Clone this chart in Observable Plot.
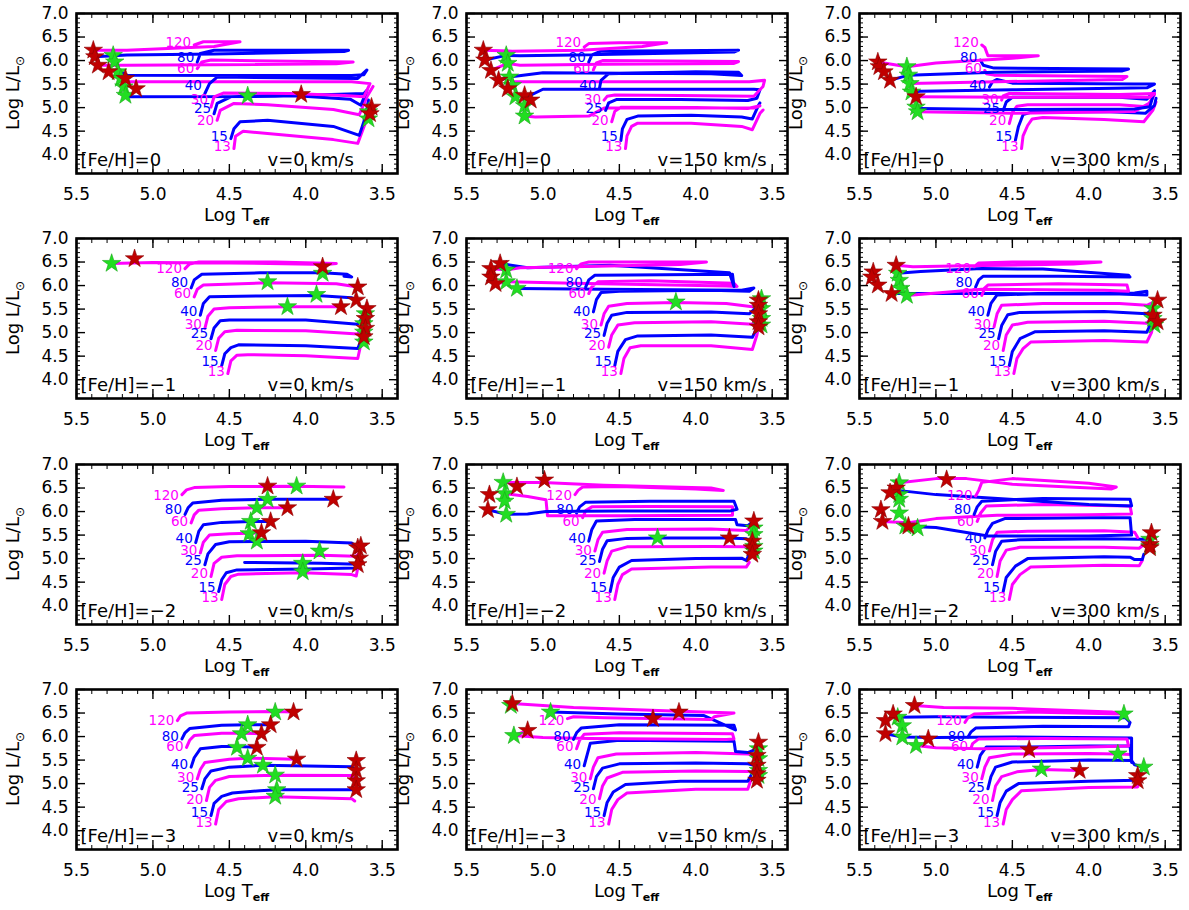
<!DOCTYPE html>
<html><head><meta charset="utf-8">
<script src="https://cdn.jsdelivr.net/npm/d3@7"></script>
<script src="https://cdn.jsdelivr.net/npm/@observablehq/plot@0.6"></script>
<style>
body{margin:0;background:#fff;}
#wrap{position:relative;width:1189px;height:910px;overflow:hidden;background:#fff;}
#wrap svg{position:absolute;overflow:visible;}
</style></head><body><div id="wrap"></div>
<script>
// ---- categories ----
const masses = [13, 15, 20, 25, 30, 40, 60, 80, 120];
const magentaMasses = [13, 20, 30, 60, 120];
const fehLabels = ["0", "−1", "−2", "−3"];
const velLabels = ["0", "150", "300"];
const xTicks = [5.5, 5.0, 4.5, 4.0, 3.5];
const yTicks = [4.0, 4.5, 5.0, 5.5, 6.0, 6.5, 7.0];
// Log L at which each mass label sits, per [Fe/H] row
const labelLum = [
  [4.16, 4.39, 4.72, 4.97, 5.17, 5.47, 5.83, 6.06, 6.38],
  [4.16, 4.39, 4.72, 4.98, 5.17, 5.45, 5.83, 6.06, 6.36],
  [4.16, 4.38, 4.67, 4.96, 5.16, 5.42, 5.79, 6.04, 6.33],
  [4.18, 4.38, 4.66, 4.91, 5.12, 5.40, 5.78, 6.00, 6.33]
];

// ---- [Fe/H]=0 ----
const tracksFe0v0 = {
  13: [[4.47,4.13],[4.46,4.39],[4.41,4.50],[4.25,4.45],[3.82,4.32],[3.66,4.24],[3.62,4.59],[3.58,4.94]],
  15: [[4.49,4.34],[4.47,4.55],[4.43,4.70],[4.25,4.73],[3.82,4.60],[3.65,4.41],[3.61,4.80],[3.59,5.16]],
  20: [[4.58,4.73],[4.56,4.94],[4.47,5.09],[4.25,5.06],[3.82,4.96],[3.65,4.85],[3.60,5.23],[3.56,5.45]],
  25: [[4.60,4.87],[4.58,5.09],[4.49,5.23],[4.14,5.27],[3.71,5.18],[3.64,5.05],[3.60,5.37],[3.62,5.30],[4.20,5.24],[5.17,5.23],[5.18,5.26]],
  30: [[4.62,5.01],[4.60,5.23],[4.54,5.31],[4.10,5.30],[3.75,5.26],[3.62,5.23],[3.58,5.51],[3.70,5.55],[5.17,5.55],[5.19,5.62]],
  40: [[4.66,5.30],[4.63,5.51],[4.58,5.65],[3.66,5.62],[3.60,5.80],[3.62,5.70],[3.70,5.68],[5.17,5.69],[5.21,5.76]],
  60: [[4.71,5.83],[4.68,5.97],[4.62,6.01],[3.69,5.97],[3.80,5.93],[5.17,5.90],[5.36,5.90]],
  80: [[4.71,5.97],[4.69,6.15],[4.60,6.22],[3.72,6.22],[3.75,6.19],[4.60,6.14],[5.17,6.12],[5.38,6.08]],
  120: [[4.73,6.33],[4.67,6.40],[4.43,6.40],[4.60,6.30],[5.17,6.22],[5.39,6.22]]
};
const redFe0v0 = [[5.39,6.22],[5.38,6.08],[5.36,5.90],[5.29,5.76],[5.18,5.62],[5.11,5.40],[4.03,5.28],[3.57,5.01],[3.58,4.87]];
const greenFe0v0 = [[5.26,6.11],[5.25,5.97],[5.23,5.76],[5.21,5.62],[5.19,5.44],[5.18,5.26],[4.38,5.25],[3.59,4.91],[3.59,4.76]];

const tracksFe0v150 = {
  13: [[4.46,4.13],[4.45,4.40],[4.42,4.60],[4.38,4.67],[4.03,4.67],[3.70,4.60],[3.63,4.53],[3.58,4.88],[3.56,4.95]],
  15: [[4.49,4.30],[4.48,4.55],[4.45,4.75],[4.38,4.82],[4.03,4.84],[3.70,4.80],[3.63,4.76],[3.59,5.05],[3.58,5.10]],
  20: [[4.55,4.70],[4.53,4.92],[4.49,5.01],[4.00,5.00],[3.66,4.98],[3.58,5.04],[3.62,4.99],[4.60,4.99],[4.70,4.82],[5.05,4.80],[5.12,4.82]],
  25: [[4.59,4.94],[4.57,5.10],[4.52,5.17],[4.10,5.17],[3.66,5.15],[3.60,5.20],[3.58,5.38],[3.62,5.39],[5.00,5.39],[5.12,5.20],[5.12,5.04]],
  30: [[4.60,5.16],[4.58,5.24],[4.53,5.27],[4.10,5.26],[3.62,5.24],[3.56,5.45],[3.55,5.58],[3.65,5.55],[5.20,5.55],[5.20,5.47]],
  40: [[4.63,5.41],[4.62,5.58],[4.57,5.72],[4.00,5.76],[3.72,5.75],[3.70,5.68],[3.90,5.72],[5.00,5.74],[5.22,5.65],[5.29,5.58]],
  60: [[4.67,5.80],[4.65,5.95],[4.61,6.00],[3.72,5.98],[3.75,5.94],[4.60,5.92],[5.15,5.90],[5.23,5.94],[5.34,5.79]],
  80: [[4.70,5.97],[4.68,6.12],[4.62,6.20],[3.72,6.22],[3.75,6.18],[4.80,6.12],[5.15,6.10],[5.24,6.11],[5.38,6.01]],
  120: [[4.73,6.29],[4.70,6.36],[4.50,6.38],[4.19,6.38],[4.35,6.30],[4.75,6.22],[5.20,6.20],[5.39,6.22]]
};
const redFe0v150 = [[5.39,6.22],[5.38,6.01],[5.34,5.79],[5.29,5.58],[5.23,5.40],[5.12,5.26],[5.08,5.16]];
const greenFe0v150 = [[5.24,6.11],[5.23,5.94],[5.22,5.65],[5.20,5.47],[5.18,5.23],[5.12,5.04],[5.12,4.82]];

const tracksFe0v300 = {
  13: [[4.44,4.13],[4.43,4.40],[4.40,4.62],[4.37,4.76],[4.30,4.79],[3.90,4.75],[3.64,4.70],[3.58,4.95],[3.56,5.12]],
  15: [[4.48,4.31],[4.46,4.60],[4.43,4.85],[4.38,4.90],[3.90,4.92],[3.63,4.88],[3.57,5.05],[3.56,5.20]],
  20: [[4.52,4.66],[4.50,4.90],[4.47,5.03],[4.40,5.06],[3.80,5.06],[3.62,5.02],[3.57,5.28],[3.60,5.10],[3.70,4.92],[4.50,4.88],[5.12,4.91]],
  25: [[4.56,4.94],[4.54,5.12],[4.50,5.22],[3.80,5.22],[3.62,5.18],[3.57,5.36],[3.60,5.02],[3.70,4.97],[4.60,4.96],[5.10,4.98],[5.13,5.01]],
  30: [[4.57,5.16],[4.56,5.25],[4.52,5.30],[3.80,5.28],[3.57,5.30],[3.60,5.22],[4.50,5.22],[5.13,5.23]],
  40: [[4.65,5.44],[4.63,5.55],[4.60,5.60],[4.50,5.52],[3.70,5.50],[3.57,5.50],[3.62,5.42],[4.50,5.38],[5.10,5.35],[5.16,5.33]],
  60: [[4.68,5.79],[4.67,5.72],[4.62,5.69],[3.75,5.66],[3.78,5.60],[4.60,5.55],[5.17,5.51]],
  80: [[4.71,6.01],[4.69,5.90],[4.62,5.84],[3.74,5.82],[3.78,5.78],[4.62,5.75],[5.18,5.69],[5.30,5.58]],
  120: [[4.70,6.33],[4.68,6.28],[4.66,6.10],[4.33,6.10],[4.50,6.05],[5.00,5.95],[5.19,5.87],[5.38,5.97]]
};
const redFe0v300 = [[5.38,5.97],[5.37,5.87],[5.34,5.76],[5.30,5.58],[5.13,5.23]];
const greenFe0v300 = [[5.19,5.87],[5.18,5.69],[5.17,5.51],[5.16,5.33],[5.13,5.01],[5.12,4.91]];

// ---- [Fe/H]=-1 ----
const tracksFem1v0 = {
  13: [[4.51,4.13],[4.49,4.40],[4.45,4.52],[4.38,4.53],[4.00,4.51],[3.66,4.45],[3.64,4.75],[3.62,4.85]],
  15: [[4.55,4.30],[4.53,4.55],[4.49,4.68],[4.44,4.74],[4.00,4.72],[3.66,4.66],[3.63,4.90],[3.62,5.05]],
  20: [[4.59,4.62],[4.57,4.88],[4.53,5.02],[4.45,5.05],[4.00,5.04],[3.66,4.97],[3.63,5.15],[3.61,5.26]],
  25: [[4.62,4.87],[4.60,5.10],[4.56,5.25],[4.50,5.27],[4.00,5.27],[3.66,5.18],[3.62,5.35],[3.60,5.48]],
  30: [[4.66,5.09],[4.64,5.35],[4.60,5.50],[4.50,5.53],[4.12,5.55],[3.77,5.55]],
  40: [[4.69,5.37],[4.67,5.62],[4.63,5.76],[4.30,5.78],[3.93,5.79],[3.70,5.74],[3.67,5.69]],
  60: [[4.73,5.76],[4.71,5.92],[4.67,6.01],[4.25,6.06],[3.80,6.04],[3.66,5.97]],
  80: [[4.75,5.95],[4.73,6.12],[4.68,6.24],[4.30,6.27],[3.89,6.27],[3.73,6.24],[3.70,6.18],[3.75,6.20]],
  120: [[4.79,6.36],[4.76,6.46],[4.70,6.50],[4.20,6.50],[3.80,6.47],[3.85,6.45],[4.50,6.48],[5.00,6.49],[5.27,6.47]]
};
const redFem1v0 = [[5.12,6.57],[3.89,6.40],[3.66,5.97],[3.67,5.69],[3.77,5.55],[3.60,5.51],[3.61,5.30],[3.61,5.09],[3.62,4.91]];
const greenFem1v0 = [[5.27,6.47],[3.89,6.26],[4.25,6.08],[3.93,5.81],[4.12,5.55],[3.61,5.40],[3.62,5.19],[3.62,5.01],[3.62,4.80]];

const tracksFem1v150 = {
  13: [[4.49,4.13],[4.47,4.45],[4.43,4.68],[4.36,4.72],[3.90,4.72],[3.63,4.64],[3.60,4.95],[3.59,5.12]],
  15: [[4.53,4.30],[4.51,4.60],[4.46,4.85],[4.38,4.93],[3.90,4.95],[3.63,4.90],[3.60,5.10],[3.59,5.23]],
  20: [[4.57,4.69],[4.55,4.95],[4.51,5.16],[4.40,5.21],[3.90,5.23],[3.63,5.18],[3.60,5.35],[3.59,5.40]],
  25: [[4.60,4.94],[4.58,5.20],[4.55,5.37],[4.45,5.43],[3.90,5.44],[3.65,5.40],[3.60,5.55],[3.59,5.69]],
  30: [[4.62,5.16],[4.60,5.40],[4.57,5.56],[4.45,5.62],[4.13,5.64],[3.80,5.62],[3.63,5.55],[3.58,5.72]],
  40: [[4.67,5.44],[4.65,5.70],[4.62,5.85],[4.50,5.88],[3.90,5.90],[3.65,5.88],[3.62,5.95],[3.70,5.90],[4.60,5.92],[5.17,5.94]],
  60: [[4.70,5.83],[4.68,5.97],[4.64,6.08],[4.30,6.10],[3.75,6.05],[3.73,5.98],[3.80,5.99],[4.80,6.05],[5.24,6.08],[5.31,6.04]],
  80: [[4.72,5.97],[4.70,6.12],[4.66,6.22],[3.76,6.24],[3.75,5.98],[3.78,6.27],[4.56,6.43],[5.10,6.38],[5.28,6.47]],
  120: [[4.78,6.36],[4.75,6.46],[4.70,6.50],[4.20,6.50],[3.93,6.50],[4.10,6.45],[4.80,6.40],[5.15,6.38],[5.24,6.33],[5.34,6.36]]
};
const redFem1v150 = [[5.34,6.36],[5.28,6.47],[5.34,6.18],[5.31,6.04],[3.59,5.69],[3.59,5.58],[3.59,5.40],[3.59,5.23],[3.59,5.12]];
const greenFem1v150 = [[5.24,6.33],[5.24,6.08],[5.17,5.94],[4.13,5.65],[3.57,5.72],[3.57,5.51],[3.57,5.30],[3.57,5.16]];

const tracksFem1v300 = {
  13: [[4.49,4.13],[4.47,4.45],[4.43,4.66],[4.38,4.80],[3.90,4.83],[3.62,4.80],[3.59,5.00],[3.58,5.16]],
  15: [[4.52,4.30],[4.50,4.60],[4.45,4.87],[4.35,5.02],[3.90,5.04],[3.62,5.01],[3.58,5.30]],
  20: [[4.56,4.62],[4.54,4.95],[4.50,5.16],[4.40,5.22],[3.90,5.24],[3.62,5.20],[3.58,5.37]],
  25: [[4.59,4.87],[4.57,5.15],[4.53,5.38],[4.45,5.43],[3.90,5.45],[3.62,5.40],[3.58,5.51]],
  30: [[4.62,5.12],[4.60,5.40],[4.57,5.58],[4.30,5.62],[3.80,5.62],[3.62,5.58],[3.55,5.69]],
  40: [[4.66,5.37],[4.64,5.62],[4.60,5.80],[4.30,5.83],[3.70,5.84],[3.62,5.88],[3.62,5.80],[3.80,5.82],[4.60,5.83],[5.20,5.83],[5.29,5.83]],
  60: [[4.70,5.79],[4.68,5.95],[4.66,6.01],[4.20,6.04],[3.75,6.01],[3.74,5.88],[3.90,5.90],[4.70,5.92],[5.19,5.79]],
  80: [[4.74,5.97],[4.72,6.12],[4.69,6.20],[4.20,6.20],[3.73,6.18],[3.74,6.22],[4.30,6.35],[4.70,6.36],[5.10,6.30],[5.25,6.26]],
  120: [[4.75,6.40],[4.72,6.48],[4.50,6.50],[3.92,6.50],[4.10,6.46],[4.80,6.42],[5.15,6.40],[5.26,6.43]]
};
const redFem1v300 = [[5.41,6.29],[5.42,6.18],[5.38,6.01],[5.26,6.43],[5.29,5.83],[3.55,5.69],[3.58,5.37],[3.55,5.23]];
const greenFem1v300 = [[5.25,6.26],[5.24,6.11],[5.23,5.94],[5.19,5.79],[3.58,5.51],[3.57,5.16],[3.58,5.30]];

// ---- [Fe/H]=-2 ----
const tracksFem2v0 = {
  13: [[4.55,4.13],[4.53,4.45],[4.49,4.62],[4.44,4.67],[4.02,4.70],[3.70,4.66],[3.67,4.63],[3.66,4.80]],
  15: [[4.57,4.30],[4.55,4.55],[4.52,4.70],[4.45,4.76],[4.00,4.78],[3.67,4.80],[3.66,4.88],[3.90,4.90],[4.40,4.92]],
  20: [[4.62,4.62],[4.60,4.90],[4.55,5.03],[4.45,5.06],[3.90,5.07],[3.67,5.05],[3.65,5.12]],
  25: [[4.66,4.87],[4.64,5.10],[4.59,5.30],[4.50,5.36],[4.00,5.37],[3.70,5.33],[3.66,5.24]],
  30: [[4.69,5.12],[4.67,5.35],[4.63,5.50],[4.50,5.53],[4.37,5.54],[4.29,5.55]],
  40: [[4.72,5.34],[4.70,5.58],[4.67,5.72],[4.55,5.77],[4.36,5.79],[4.23,5.79]],
  60: [[4.75,5.76],[4.73,5.93],[4.70,6.03],[4.55,6.06],[4.32,6.08],[4.12,6.08]],
  80: [[4.79,5.94],[4.77,6.08],[4.74,6.18],[4.55,6.24],[4.25,6.26],[3.81,6.26]],
  120: [[4.81,6.36],[4.78,6.46],[4.73,6.51],[4.50,6.53],[4.06,6.54],[3.75,6.52]]
};
const redFem2v0 = [[4.25,6.54],[3.82,6.26],[4.12,6.08],[4.23,5.79],[4.29,5.55],[3.66,5.23],[3.64,5.27],[3.65,5.01],[3.66,4.87]];
const greenFem2v0 = [[4.06,6.54],[4.25,6.26],[4.32,6.08],[4.36,5.79],[4.37,5.53],[4.32,5.37],[3.91,5.16],[4.02,4.90],[4.02,4.72]];

const tracksFem2v150 = {
  13: [[4.53,4.13],[4.51,4.45],[4.48,4.66],[4.42,4.78],[3.90,4.82],[3.67,4.82],[3.65,4.92]],
  15: [[4.56,4.30],[4.54,4.60],[4.50,4.82],[4.42,4.96],[4.00,5.00],[3.70,5.01],[3.67,4.96],[3.65,5.09]],
  20: [[4.60,4.69],[4.58,4.95],[4.55,5.16],[4.45,5.25],[3.90,5.26],[3.67,5.25],[3.64,5.16]],
  25: [[4.63,4.94],[4.61,5.20],[4.58,5.38],[4.45,5.43],[4.25,5.44],[3.78,5.44],[3.67,5.42],[3.64,5.37]],
  30: [[4.66,5.16],[4.64,5.40],[4.61,5.56],[4.45,5.62],[3.90,5.63],[3.67,5.60],[3.63,5.70]],
  40: [[4.70,5.37],[4.68,5.62],[4.65,5.80],[4.40,5.83],[3.74,5.83],[3.73,5.72],[3.66,5.70],[3.62,5.80]],
  60: [[4.74,5.87],[4.72,6.02],[4.68,6.10],[4.30,6.11],[3.76,6.10],[3.76,5.92],[4.50,5.91],[4.97,5.91],[4.98,6.25],[5.10,6.32],[5.25,6.38]],
  80: [[4.78,5.97],[4.76,6.10],[4.72,6.20],[4.30,6.22],[3.75,6.22],[3.73,6.05],[3.78,6.01],[4.50,6.01],[4.98,6.00],[5.10,5.95],[5.24,5.94],[5.36,6.04]],
  120: [[4.79,6.36],[4.77,6.45],[4.74,6.52],[4.50,6.53],[4.00,6.48],[3.82,6.45],[3.90,6.50],[4.60,6.56],[5.00,6.62],[5.26,6.62]]
};
const redFem2v150 = [[5.35,6.36],[5.36,6.04],[5.17,6.53],[4.99,6.67],[3.78,5.44],[3.62,5.80],[3.63,5.37],[3.63,5.23],[3.63,5.09]];
const greenFem2v150 = [[5.26,6.62],[5.25,6.38],[5.25,6.22],[5.24,5.94],[4.25,5.44],[3.62,5.65],[3.62,5.51],[3.62,5.26],[3.62,5.16]];

const tracksFem2v300 = {
  13: [[4.52,4.13],[4.50,4.45],[4.45,4.66],[4.38,4.82],[3.90,4.86],[3.67,4.85],[3.65,4.96]],
  15: [[4.56,4.30],[4.54,4.60],[4.48,4.84],[4.40,5.00],[3.90,5.04],[3.73,5.03],[3.70,4.98],[3.65,4.98],[3.64,5.09]],
  20: [[4.60,4.62],[4.58,4.95],[4.54,5.18],[4.45,5.24],[3.90,5.24],[3.67,5.22],[3.64,5.30]],
  25: [[4.63,4.87],[4.61,5.15],[4.57,5.37],[4.45,5.40],[3.90,5.42],[3.67,5.41],[3.62,5.41]],
  30: [[4.65,5.16],[4.63,5.40],[4.60,5.56],[4.40,5.58],[3.90,5.59],[3.70,5.56],[3.68,5.45]],
  40: [[4.68,5.44],[4.66,5.60],[4.63,5.75],[4.55,5.85],[4.00,5.87],[3.73,5.87],[3.72,5.50],[4.00,5.48],[4.66,5.48],[5.00,5.66],[5.20,5.69]],
  60: [[4.73,5.79],[4.71,5.96],[4.67,6.12],[4.30,6.15],[3.73,6.12],[3.72,5.95],[4.00,5.93],[4.60,5.92],[5.00,5.85],[5.18,5.76],[5.35,5.79]],
  80: [[4.75,5.94],[4.73,6.10],[4.70,6.22],[4.30,6.28],[3.73,6.26],[3.72,6.12],[4.00,6.15],[4.70,6.30],[5.00,6.36],[5.25,6.45],[5.30,6.40]],
  120: [[4.74,6.33],[4.72,6.45],[4.70,6.62],[4.50,6.70],[4.00,6.60],[3.82,6.52],[3.85,6.48],[4.50,6.58],[4.80,6.70],[5.00,6.70],[5.24,6.61]]
};
const redFem2v300 = [[4.93,6.68],[5.26,6.50],[5.30,6.40],[5.36,6.04],[5.35,5.79],[5.18,5.69],[3.59,5.55],[3.60,5.30],[3.60,5.23]];
const greenFem2v300 = [[5.24,6.61],[5.24,6.36],[5.24,6.26],[5.24,5.97],[5.20,5.69],[5.12,5.65],[3.60,5.41],[3.60,5.26]];

// ---- [Fe/H]=-3 ----
const tracksFem3v0 = {
  13: [[4.59,4.14],[4.57,4.45],[4.52,4.62],[4.44,4.68],[4.20,4.72],[3.70,4.68],[3.68,4.63]],
  15: [[4.62,4.32],[4.60,4.58],[4.55,4.73],[4.48,4.80],[4.30,4.85],[4.19,4.87],[3.70,4.87],[3.67,4.85]],
  20: [[4.65,4.64],[4.63,4.92],[4.59,5.07],[4.50,5.15],[4.20,5.18],[3.70,5.17],[3.67,5.06]],
  25: [[4.68,4.89],[4.66,5.10],[4.62,5.27],[4.50,5.35],[4.28,5.39],[3.70,5.36],[3.67,5.28]],
  30: [[4.71,5.10],[4.69,5.30],[4.66,5.45],[4.50,5.52],[4.38,5.54],[4.06,5.52]],
  40: [[4.75,5.35],[4.73,5.55],[4.69,5.74],[4.55,5.79],[4.45,5.79],[4.32,5.77]],
  60: [[4.78,5.77],[4.76,5.92],[4.73,6.02],[4.55,6.07],[4.42,6.07],[4.29,6.06]],
  80: [[4.81,5.95],[4.79,6.08],[4.76,6.17],[4.55,6.24],[4.38,6.25],[4.23,6.25]],
  120: [[4.84,6.34],[4.82,6.44],[4.78,6.50],[4.50,6.52],[4.20,6.53],[4.08,6.52]]
};
const redFem3v0 = [[4.08,6.52],[4.23,6.25],[4.29,6.06],[4.32,5.77],[4.06,5.52],[3.67,5.49],[3.67,5.28],[3.67,5.06],[3.67,4.87]];
const greenFem3v0 = [[4.20,6.52],[4.38,6.25],[4.42,6.06],[4.45,5.77],[4.38,5.54],[4.28,5.39],[4.20,5.18],[4.19,4.87],[4.20,4.73]];

const tracksFem3v150 = {
  13: [[4.57,4.14],[4.55,4.45],[4.51,4.66],[4.45,4.80],[4.00,4.88],[3.66,4.88],[3.64,5.07]],
  15: [[4.60,4.32],[4.58,4.60],[4.54,4.82],[4.46,4.98],[4.10,5.05],[3.66,5.05],[3.64,5.17]],
  20: [[4.63,4.68],[4.61,4.95],[4.58,5.12],[4.48,5.24],[4.00,5.27],[3.66,5.26],[3.62,5.24]],
  25: [[4.67,4.89],[4.65,5.15],[4.61,5.33],[4.50,5.42],[4.00,5.44],[3.66,5.42],[3.62,5.39]],
  30: [[4.69,5.10],[4.67,5.35],[4.64,5.55],[4.52,5.63],[4.00,5.66],[3.66,5.63],[3.62,5.60]],
  40: [[4.73,5.38],[4.71,5.62],[4.69,5.86],[4.50,5.92],[3.75,5.90],[3.74,5.68],[3.66,5.66],[3.60,5.74]],
  60: [[4.78,5.74],[4.76,5.92],[4.73,6.05],[4.50,6.08],[3.76,6.06],[3.75,5.95],[3.80,5.94],[4.70,5.96],[5.00,5.98],[5.19,6.02],[5.10,6.13]],
  80: [[4.80,5.94],[4.78,6.08],[4.75,6.18],[4.50,6.25],[3.75,6.24],[3.74,6.14],[3.95,6.45],[4.50,6.48],[4.95,6.52]],
  120: [[4.84,6.38],[4.80,6.42],[4.60,6.40],[4.20,6.38],[3.90,6.36],[3.88,6.42],[3.75,6.50],[4.20,6.55],[4.80,6.62],[5.20,6.70]]
};
const redFem3v150 = [[5.20,6.70],[5.10,6.13],[4.28,6.38],[4.11,6.52],[3.59,5.88],[3.60,5.60],[3.60,5.39],[3.60,5.21],[3.60,5.07]];
const greenFem3v150 = [[5.21,6.66],[4.95,6.52],[5.19,6.02],[3.59,5.74],[3.59,5.53],[3.59,5.28],[3.59,5.17]];

const tracksFem3v300 = {
  13: [[4.56,4.14],[4.54,4.45],[4.50,4.66],[4.44,4.85],[4.00,4.92],[3.68,4.93],[3.67,5.06]],
  15: [[4.60,4.32],[4.58,4.60],[4.54,4.84],[4.46,5.00],[4.00,5.05],[3.69,5.07],[3.68,5.17]],
  20: [[4.63,4.64],[4.61,4.95],[4.57,5.15],[4.47,5.25],[4.31,5.30],[4.06,5.28]],
  25: [[4.66,4.89],[4.64,5.15],[4.61,5.35],[4.50,5.46],[4.00,5.50],[3.72,5.49],[3.70,5.40],[3.64,5.35]],
  30: [[4.70,5.10],[4.68,5.35],[4.65,5.55],[4.50,5.63],[4.00,5.64],[3.81,5.63],[3.72,5.62]],
  40: [[4.73,5.35],[4.71,5.60],[4.67,5.78],[4.39,5.78],[4.00,5.80],[3.73,5.80],[3.72,5.45],[3.72,5.97],[4.50,5.99],[5.00,5.98],[5.22,5.99],[5.33,6.06]],
  60: [[4.77,5.76],[4.76,5.85],[4.72,5.95],[4.30,5.96],[3.75,5.95],[3.74,5.80],[4.00,5.78],[4.70,5.74],[5.00,5.76],[5.13,5.81]],
  80: [[4.79,5.99],[4.77,6.10],[4.74,6.18],[4.30,6.22],[3.74,6.21],[3.73,6.30],[3.76,6.40],[4.50,6.41],[5.00,6.42],[5.25,6.41],[5.28,6.48]],
  120: [[4.81,6.30],[4.79,6.40],[4.75,6.48],[4.40,6.52],[3.78,6.48],[3.85,6.52],[4.50,6.60],[4.95,6.62],[5.14,6.66]]
};
const redFem3v300 = [[5.14,6.66],[5.28,6.48],[5.33,6.34],[5.33,6.06],[5.05,5.95],[4.39,5.72],[4.06,5.28],[3.68,5.17],[3.68,5.06]];
const greenFem3v300 = [[5.25,6.41],[5.22,6.23],[5.22,5.99],[5.13,5.81],[4.31,5.31],[3.77,6.48],[3.81,5.63],[3.64,5.35]];

// ---- panel table built from the arrays ----
const panels = [
  [tracksFe0v0, redFe0v0, greenFe0v0], [tracksFe0v150, redFe0v150, greenFe0v150], [tracksFe0v300, redFe0v300, greenFe0v300],
  [tracksFem1v0, redFem1v0, greenFem1v0], [tracksFem1v150, redFem1v150, greenFem1v150], [tracksFem1v300, redFem1v300, greenFem1v300],
  [tracksFem2v0, redFem2v0, greenFem2v0], [tracksFem2v150, redFem2v150, greenFem2v150], [tracksFem2v300, redFem2v300, greenFem2v300],
  [tracksFem3v0, redFem3v0, greenFem3v0], [tracksFem3v150, redFem3v150, greenFem3v150], [tracksFem3v300, redFem3v300, greenFem3v300]
];

const MAG = "#ff00ff", BLUE = "#0000ff", RED = "#c00000", GREEN = "#22dd22";
const W = 410, H = 225, ML = 76, MR = 13, MT = 13, MB = 52;
const colLeft = [0, 390, 783], rowTop = [0, 225, 451, 676];
const f1 = d3.format(".1f");
const xMinor = d3.range(34, 56).map(v => v / 10);
const yMinor = d3.range(36, 71).map(v => v / 10);
const FONT = "DejaVu Sans, sans-serif";
const wrap = document.getElementById("wrap");

panels.forEach(([tracks, red, green], i) => {
  const row = Math.floor(i / 3), col = i % 3;
  const lineMarks = masses.map(m => Plot.line(tracks[m], {
    x: d => d[0], y: d => d[1], stroke: magentaMasses.includes(m) ? MAG : BLUE,
    strokeWidth: 3, strokeLinejoin: "round", strokeLinecap: "round", clip: true
  }));
  const starts = masses.map((m, k) => ({m, t: tracks[m][0][0], l: labelLum[row][k]}));
  const labelOpts = {x: "t", y: "l", text: d => String(d.m), textAnchor: "end", dx: -3, fontSize: 13.5, fontFamily: FONT};
  const noLab = () => "";
  const svg = Plot.plot({
    width: W, height: H, marginLeft: ML, marginRight: MR, marginTop: MT, marginBottom: MB,
    style: {fontFamily: FONT, fontSize: "16px", color: "#000", background: "transparent", overflow: "visible"},
    x: {domain: [5.5, 3.4], label: null},
    y: {domain: [3.6, 7.0], label: null},
    marks: [
      ...lineMarks,
      Plot.text(starts.filter(d => magentaMasses.includes(d.m)), {...labelOpts, fill: MAG}),
      Plot.text(starts.filter(d => !magentaMasses.includes(d.m)), {...labelOpts, fill: BLUE}),
      Plot.dot(green, {x: d => d[0], y: d => d[1], symbol: "star", r: 5.8, fill: GREEN, stroke: "#1aa81a", strokeWidth: 0.6}),
      Plot.dot(red, {x: d => d[0], y: d => d[1], symbol: "star", r: 5.8, fill: RED, stroke: "#8a0000", strokeWidth: 0.6}),
      Plot.text([`[Fe/H]=${fehLabels[row]}`], {frameAnchor: "bottom-left", dx: 4, dy: -8, lineAnchor: "bottom", textAnchor: "start", fontSize: 18, fontFamily: FONT}),
      Plot.text([`v=${velLabels[col]} km/s`], {frameAnchor: "bottom-left", dx: 191, dy: -8, lineAnchor: "bottom", textAnchor: "start", fontSize: 18, fontFamily: FONT}),
      Plot.axisX(xTicks, {anchor: "bottom", tickSize: 0, tickPadding: 14, tickFormat: f1, fontSize: 17}),
      Plot.axisY(yTicks, {anchor: "left", tickSize: 0, tickPadding: 8, tickFormat: f1, fontSize: 17}),
      Plot.axisX(xTicks, {anchor: "bottom", tickSize: -9, tickFormat: noLab, strokeWidth: 1.4}),
      Plot.axisX(xTicks, {anchor: "top", tickSize: -9, tickFormat: noLab, strokeWidth: 1.4}),
      Plot.axisX(xMinor, {anchor: "bottom", tickSize: -4, tickFormat: noLab}),
      Plot.axisX(xMinor, {anchor: "top", tickSize: -4, tickFormat: noLab}),
      Plot.axisY(yTicks, {anchor: "left", tickSize: -9, tickFormat: noLab, strokeWidth: 1.4}),
      Plot.axisY(yTicks, {anchor: "right", tickSize: -9, tickFormat: noLab, strokeWidth: 1.4}),
      Plot.axisY(yMinor, {anchor: "left", tickSize: -4, tickFormat: noLab}),
      Plot.axisY(yMinor, {anchor: "right", tickSize: -4, tickFormat: noLab}),
      Plot.frame({stroke: "#000", strokeWidth: 2.6})
    ]
  });
  svg.style.left = colLeft[col] + "px";
  svg.style.top = rowTop[row] + "px";
  const s = d3.select(svg);
  const xl = s.append("text").attr("x", ML + (W - ML - MR) / 2).attr("y", H - 4)
    .attr("text-anchor", "middle").attr("font-size", 18).attr("font-family", FONT).attr("fill", "#000");
  xl.append("tspan").text("Log T");
  xl.append("tspan").attr("font-size", 11).attr("font-weight", "bold").attr("dy", 4).text("eff");
  const cy = MT + (H - MT - MB) / 2;
  const yl = s.append("text").attr("transform", `translate(${ML - 57},${cy}) rotate(-90)`)
    .attr("text-anchor", "middle").attr("font-size", 18).attr("font-family", FONT).attr("fill", "#000");
  yl.append("tspan").text("Log L/L");
  yl.append("tspan").attr("font-size", 12).attr("dy", 5).text("⊙");
  wrap.appendChild(svg);
});
</script></body></html>
